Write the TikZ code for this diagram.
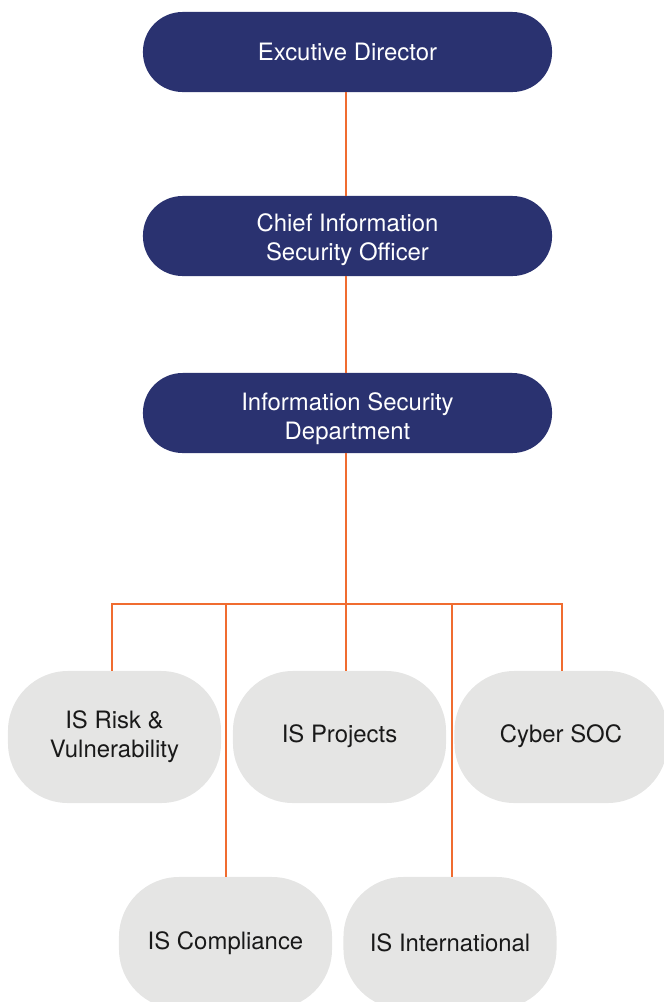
\documentclass[tikz,border=0pt]{standalone}
\usepackage{fontspec}
\setmainfont{TeX Gyre Heros}
\usetikzlibrary{positioning,calc}
\definecolor{DirNavy}{RGB}{42,50,112}
\definecolor{LinkOrange}{RGB}{240,108,48}
\definecolor{UnitGray}{RGB}{229,229,228}
\tikzset{
  lead/.style={fill=DirNavy,text=white,rounded corners=0.99cm,inner sep=2pt,
    minimum width=10.225cm,minimum height=2cm,align=center,
    font=\fontsize{17}{20.6}\selectfont},
  unit/.style={fill=UnitGray,text=black!90,rounded corners=1.5cm,inner sep=2pt,
    minimum width=5.325cm,minimum height=3.3cm,align=center,
    font=\fontsize{17}{20.6}\selectfont},
  link/.style={draw=LinkOrange,line width=2.1pt},
}

\begin{document}
\begin{tikzpicture}[x=0.025cm,y=-0.025cm]
  \useasboundingbox (0,0) rectangle (664,1002);
  \node[lead] (ed) at (347.5,52) {Excutive Director};
  \node[lead] (ciso) at (347.5,236) {\rule{0pt}{18pt}Chief Information\\Security Officer};
  \node[lead] (isd) at (347.5,413) {\rule{0pt}{21pt}Information Security\\Department};
  \node[unit] (risk) at (114.5,737) {IS Risk \&\\Vulnerability};
  \node[unit] (proj) at (339.5,737) {IS Projects\rule[-5pt]{0pt}{5pt}};
  \node[unit] (soc) at (561,737) {Cyber SOC\rule[-5pt]{0pt}{5pt}};
  \node[unit] (comp) at (225.5,943) {IS Compliance};
  \node[unit] (intl) at (450,943) {IS International};
  \coordinate (bus) at (346,604);
  \draw[link] (ed.south -| bus) -- (ciso.north -| bus);
  \draw[link] (ciso.south -| bus) -- (isd.north -| bus);
  \draw[link] (isd.south -| bus) -- (bus);
  \draw[link] (risk.north -| 112,0) |- (bus) -| (soc.north -| 562,0);
  \draw[link] (bus) -- (proj.north -| bus);
  \foreach \u/\x in {comp/226,intl/452}
    \draw[link] (\u.north -| \x,0) -- (\x,604);
\end{tikzpicture}
\end{document}
